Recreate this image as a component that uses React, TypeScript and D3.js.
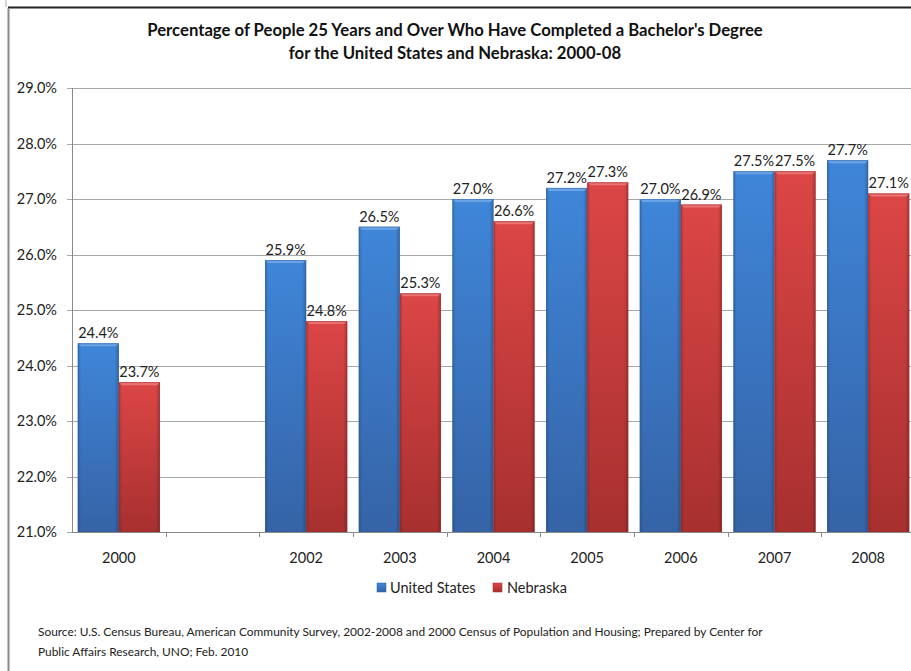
import React from "react";
import * as d3 from "d3";

const categories = ["2000", "2001", "2002", "2003", "2004", "2005", "2006", "2007", "2008"];
const categoryLabels = ["2000", "", "2002", "2003", "2004", "2005", "2006", "2007", "2008"];
const unitedStates: (number | null)[] = [24.4, null, 25.9, 26.5, 27.0, 27.2, 27.0, 27.5, 27.7];
const nebraska: (number | null)[] = [23.7, null, 24.8, 25.3, 26.6, 27.3, 26.9, 27.5, 27.1];
const yTicks = [21, 22, 23, 24, 25, 26, 27, 28, 29];
const seriesNames = ["United States", "Nebraska"];
const titleLines = [
  "Percentage of People 25 Years and Over Who Have Completed a Bachelor's Degree",
  "for the United States and Nebraska: 2000-08",
];
const sourceLines = [
  "Source: U.S. Census Bureau, American Community Survey, 2002-2008 and 2000 Census of Population and Housing; Prepared by Center for",
  "Public Affairs Research, UNO; Feb. 2010",
];

const W = 911;
const H = 671;
const FONT = "Lato, 'Open Sans', sans-serif";
const LABEL_SIZE = 14.5;

export default function App() {
  const plotLeft = 72;
  const plotRight = 915;
  const plotTop = 88;
  const plotBottom = 532;

  const x = d3.scaleBand<string>().domain(categories).range([plotLeft, plotRight]).paddingInner(0).paddingOuter(0);
  const y = d3.scaleLinear().domain([21, 29]).range([plotBottom, plotTop]);
  const inner = d3
    .scaleBand<string>()
    .domain(seriesNames)
    .range([0, x.bandwidth()])
    .paddingInner(0)
    .paddingOuter(0.14);

  const series = [
    { name: seriesNames[0], values: unitedStates, grad: "gBlue", edge: "#2f5f9e", bevel: "#6aa3e6" },
    { name: seriesNames[1], values: nebraska, grad: "gRed", edge: "#9a2c2c", bevel: "#ea7474" },
  ];

  const fmt = (v: number) => v.toFixed(1) + "%";

  return (
    <svg
      width={W}
      height={H}
      style={{ position: "absolute", left: 0, top: 0, background: "#fff" }}
      fontFamily={FONT}
    >
      <defs>
        <linearGradient id="gBlue" x1="0" y1="0" x2="0" y2="1">
          <stop offset="0" stopColor="#3f86d9" />
          <stop offset="1" stopColor="#3563a6" />
        </linearGradient>
        <linearGradient id="gRed" x1="0" y1="0" x2="0" y2="1">
          <stop offset="0" stopColor="#dc4646" />
          <stop offset="1" stopColor="#a7302f" />
        </linearGradient>
        <linearGradient id="gShade" x1="0" y1="0" x2="1" y2="0">
          <stop offset="0" stopColor="#000" stopOpacity="0.18" />
          <stop offset="0.08" stopColor="#000" stopOpacity="0" />
          <stop offset="0.9" stopColor="#000" stopOpacity="0" />
          <stop offset="1" stopColor="#000" stopOpacity="0.22" />
        </linearGradient>
      </defs>

      {/* outer frame */}
      <line x1={6} y1={0} x2={6} y2={7} stroke="#aaa" strokeWidth={1} />
      <line x1={8} y1={7.5} x2={W} y2={7.5} stroke="#222" strokeWidth={2} />
      <line x1={8.5} y1={8} x2={8.5} y2={H} stroke="#8a8a8a" strokeWidth={2} />

      {/* title */}
      {titleLines.map((t, i) => (
        <text
          key={i}
          x={455}
          y={36 + i * 23}
          textAnchor="middle"
          fontSize={16.7}
          fontWeight="bold"
          fill="#111"
        >
          {t}
        </text>
      ))}

      {/* gridlines */}
      {yTicks.map((t) => (
        <line
          key={t}
          x1={plotLeft - 5}
          x2={plotRight}
          y1={Math.round(y(t)) + 0.5}
          y2={Math.round(y(t)) + 0.5}
          stroke="#a8a8a8"
          strokeWidth={1}
        />
      ))}
      {yTicks.map((t) => (
        <text
          key={"l" + t}
          x={57}
          y={y(t)}
          dy="0.35em"
          textAnchor="end"
          fontSize={LABEL_SIZE}
          fill="#222"
        >
          {fmt(t)}
        </text>
      ))}

      {/* axes */}
      <line x1={plotLeft + 0.5} x2={plotLeft + 0.5} y1={plotTop} y2={plotBottom} stroke="#8a8a8a" />
      <line x1={plotLeft} x2={plotRight} y1={plotBottom + 0.5} y2={plotBottom + 0.5} stroke="#8a8a8a" />
      {categories.map((c) => (
        <line
          key={"t" + c}
          x1={Math.round(x(c)! + x.bandwidth()) + 0.5}
          x2={Math.round(x(c)! + x.bandwidth()) + 0.5}
          y1={plotBottom}
          y2={plotBottom + 5}
          stroke="#8a8a8a"
        />
      ))}
      {categories.map((c, i) => (
        <text
          key={"c" + c}
          x={x(c)! + x.bandwidth() / 2}
          y={563}
          textAnchor="middle"
          fontSize={LABEL_SIZE}
          fill="#222"
        >
          {categoryLabels[i]}
        </text>
      ))}

      {/* bars */}
      {series.map((s) =>
        categories.map((c, i) => {
          const v = s.values[i];
          if (v == null) return null;
          const bx = x(c)! + inner(s.name)!;
          const bw = inner.bandwidth();
          const by = y(v);
          const bh = plotBottom - by;
          return (
            <g key={s.name + c}>
              <rect x={bx} y={by} width={bw} height={bh} fill={`url(#${s.grad})`} />
              <rect x={bx} y={by} width={bw} height={bh} fill="url(#gShade)" />
              <polygon
                points={`${bx},${by} ${bx + bw},${by} ${bx + bw - 3},${by + 3} ${bx + 3},${by + 3}`}
                fill={s.bevel}
              />
              <rect x={bx + 0.5} y={by + 0.5} width={bw - 1} height={bh - 1} fill="none" stroke={s.edge} strokeOpacity={0.5} />
            </g>
          );
        })
      )}

      {/* value labels */}
      {series.map((s) =>
        categories.map((c, i) => {
          const v = s.values[i];
          if (v == null) return null;
          const bx = x(c)! + inner(s.name)! + inner.bandwidth() / 2;
          return (
            <text
              key={"v" + s.name + c}
              x={bx}
              y={y(v) - 5}
              textAnchor="middle"
              fontSize={LABEL_SIZE}
              fill="#222"
            >
              {fmt(v)}
            </text>
          );
        })
      )}

      {/* legend */}
      <g>
        <rect x={377} y={583} width={9} height={9} fill="url(#gBlue)" stroke="#2f5f9e" strokeWidth={0.5} />
        <text x={390} y={593} fontSize={LABEL_SIZE} fill="#222">
          {seriesNames[0]}
        </text>
        <rect x={493} y={583} width={9} height={9} fill="url(#gRed)" stroke="#9a2c2c" strokeWidth={0.5} />
        <text x={507} y={593} fontSize={LABEL_SIZE} fill="#222">
          {seriesNames[1]}
        </text>
      </g>

      {/* source */}
      {sourceLines.map((t, i) => (
        <text key={"s" + i} x={38} y={636 + i * 20} fontSize={11.9} fill="#222">
          {t}
        </text>
      ))}
    </svg>
  );
}
